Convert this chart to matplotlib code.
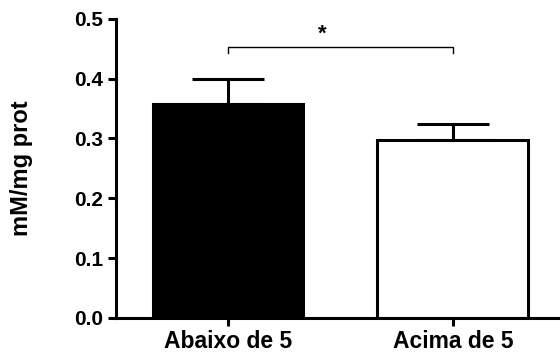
import matplotlib
matplotlib.use("Agg")
import matplotlib.pyplot as plt

plt.rcParams['font.family'] = ['Liberation Sans', 'DejaVu Sans']
plt.rcParams['font.weight'] = 'bold'

groups = ["Abaixo de 5", "Acima de 5"]
means = [0.357, 0.298]
errs = [0.043, 0.026]
colors = ["black", "white"]
yticks = [0.0, 0.1, 0.2, 0.3, 0.4, 0.5]

fig = plt.figure(figsize=(5.6, 3.56), dpi=100)
ax = fig.add_axes([0.207, 0.107, 0.789, 0.84])

x = list(range(len(groups)))
ax.bar(x, means, width=0.67, color=colors, edgecolor="black", linewidth=2.2, zorder=2)
ax.errorbar(x, means, yerr=[[0] * len(errs), errs], fmt="none", ecolor="black",
            elinewidth=2.2, capsize=26, capthick=2.2, zorder=1)

# significance bracket
yb = 0.453
ax.plot([0, 0, 1, 1], [yb - 0.01, yb, yb, yb - 0.01], color="black", lw=1, clip_on=False)
ax.text(0.42, yb + 0.003, "*", ha="center", va="bottom", fontsize=16, fontweight="bold")

ax.set_xlim(-0.498, 1.467)
ax.set_ylim(0, 0.5)
ax.set_yticks(yticks)
ax.set_yticklabels(["%.1f" % t for t in yticks], fontsize=15)
ax.set_xticks(x)
ax.set_xticklabels(groups, fontsize=16.5)
ax.set_ylabel("mM/mg prot", fontsize=17, fontweight="bold", labelpad=30)

for s in ["top", "right"]:
    ax.spines[s].set_visible(False)
for s in ["left", "bottom"]:
    ax.spines[s].set_linewidth(2.2)
ax.tick_params(axis="both", width=2.2, length=6, pad=3)

fig.savefig("out.png", dpi=100)
